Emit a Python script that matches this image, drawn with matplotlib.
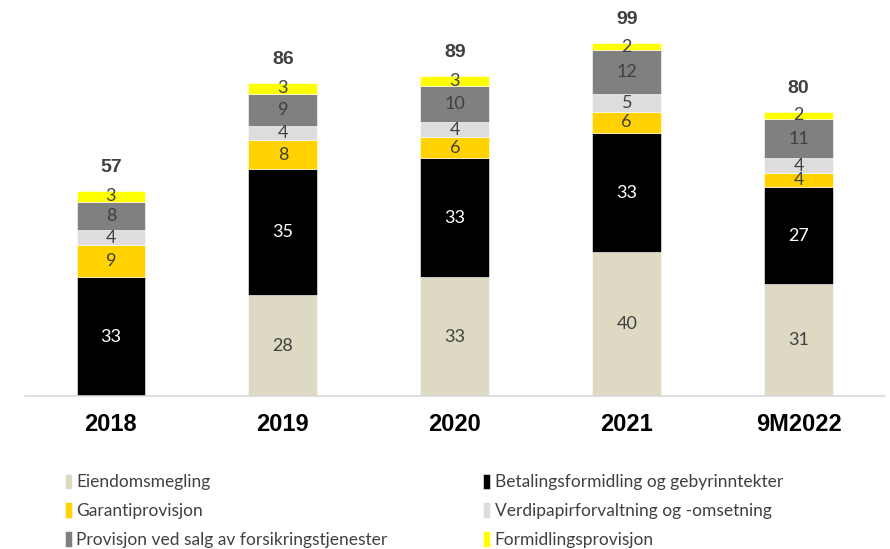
import matplotlib
matplotlib.use("Agg")
import matplotlib.pyplot as plt
import numpy as np

years = ["2018", "2019", "2020", "2021", "9M2022"]
eiendom = [0, 28, 33, 40, 31]
betaling = [33, 35, 33, 33, 27]
garanti = [9, 8, 6, 6, 4]
verdipapir = [4, 4, 4, 5, 4]
forsikring = [8, 9, 10, 12, 11]
formidling = [3, 3, 3, 2, 2]
totals = [57, 86, 89, 99, 80]

series = [
    ("Eiendomsmegling", eiendom, "#DDD9C3", "#404040"),
    ("Betalingsformidling og gebyrinntekter", betaling, "#000000", "white"),
    ("Garantiprovisjon", garanti, "#FFD200", "#404040"),
    ("Verdipapirforvaltning og -omsetning", verdipapir, "#DDDDDD", "#404040"),
    ("Provisjon ved salg av forsikringstjenester", forsikring, "#808080", "#404040"),
    ("Formidlingsprovisjon", formidling, "#FFFF00", "#404040"),
]

fig = plt.figure(figsize=(8.9, 5.49), dpi=100)
ax = fig.add_axes([0.028, 0.2787, 0.966, 0.7213])

x = np.arange(len(years))
bottom = np.zeros(len(years))
handles = []
for name, vals, col, tcol in series:
    vals = np.array(vals, dtype=float)
    bars = ax.bar(x, vals, 0.4, bottom=bottom, color=col, label=name,
                  edgecolor="white", linewidth=0.4)
    handles.append(bars)
    for xi, b, v in zip(x, bottom, vals):
        if v > 0:
            ax.text(xi, b + v / 2, f"{v:.0f}", ha="center", va="center",
                    color=tcol, fontsize=13, family="Lato")
    bottom += vals

for xi, top, t in zip(x, bottom, totals):
    ax.text(xi, top + 6.5, str(t), ha="center", va="center",
            fontsize=14, fontweight="bold", color="#404040",
            family="Liberation Sans")

ax.set_xlim(-0.5, len(years) - 0.5)
ax.set_ylim(0, 110)
for s in ["top", "right", "left"]:
    ax.spines[s].set_visible(False)
ax.spines["bottom"].set_color("#D9D9D9")
ax.spines["bottom"].set_linewidth(1.2)
ax.set_yticks([])
ax.set_xticks(x)
ax.set_xticklabels(years, fontsize=17, fontweight="bold",
                   family="Liberation Sans")
ax.tick_params(axis="x", length=0, pad=12)

# legend fills column-wise, so reorder to read row by row
order = [0, 2, 4, 1, 3, 5]
leg = fig.legend([handles[i] for i in order],
                 [series[i][0] for i in order],
                 ncol=2, loc="upper left", bbox_to_anchor=(0.067, 0.147),
                 frameon=False, handlelength=0.42, handleheight=1.0,
                 handletextpad=0.25, columnspacing=5.5, labelspacing=0.7,
                 borderaxespad=0, borderpad=0.3,
                 prop={"family": "Lato", "size": 12.5})
for t in leg.get_texts():
    t.set_color("#404040")

fig.savefig("out.png", dpi=100)
